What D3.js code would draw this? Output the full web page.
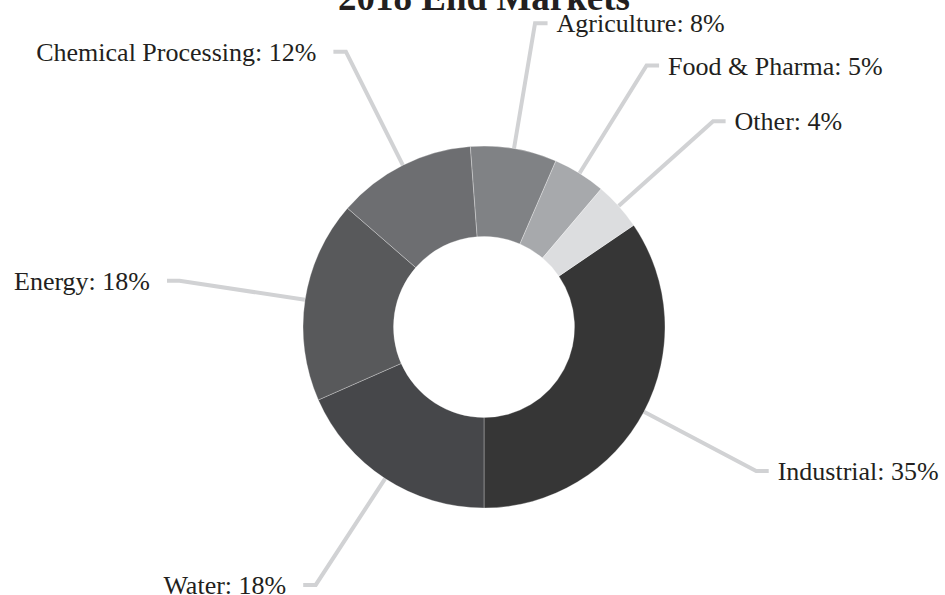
<!DOCTYPE html>
<html>
<head>
<meta charset="utf-8">
<script src="https://cdn.jsdelivr.net/npm/d3@7"></script>
<style>
  html, body { margin: 0; padding: 0; background: #ffffff; }
  svg { display: block; }
  text { font-family: "Liberation Serif", "Times New Roman", Times, serif; fill: #231f20; }
</style>
</head>
<body>
<svg id="chart" width="945" height="595"></svg>
<script>
const title = "2018 End Markets";
const categories = ["Industrial", "Water", "Energy", "Chemical Processing", "Agriculture", "Food & Pharma", "Other"];
const shares = [34.5, 18.4, 18.0, 12.4, 7.7, 4.7, 4.3];
const palette = ["#363636", "#46474a", "#58595b", "#6d6e71", "#808285", "#a7a9ac", "#dcdddf"];

const W = 945, H = 595;
const cx = 484, cy = 327;
const outerR = 181, innerR = 90.5;
const elbowR = 308;
const stub = 12.5;
const startDeg = 55.8;

const svg = d3.select("#chart");

const data = categories.map((c, i) => ({ name: c, value: shares[i] }));
const color = d3.scaleOrdinal().domain(categories).range(palette);

const startA = startDeg * Math.PI / 180;
const pie = d3.pie().sort(null).value(d => d.value)
  .startAngle(startA).endAngle(startA + 2 * Math.PI);
const arcs = pie(data);

const arc = d3.arc().innerRadius(innerR).outerRadius(outerR);
const edgeArc = d3.arc().innerRadius(outerR).outerRadius(outerR);
const elbowArc = d3.arc().innerRadius(elbowR).outerRadius(elbowR);

const g = svg.append("g").attr("transform", `translate(${cx},${cy})`);

// leader lines (under the donut)
const leaders = g.append("g").attr("class", "leaders");
arcs.forEach(a => {
  const mid = (a.startAngle + a.endAngle) / 2;
  const p0 = edgeArc.centroid(a);
  const p1 = elbowArc.centroid(a);
  const right = Math.sin(mid) >= 0;
  const p2 = [p1[0] + (right ? stub : -stub), p1[1]];
  leaders.append("path")
    .attr("d", d3.line()([p0, p1, p2]))
    .attr("fill", "none")
    .attr("stroke", "#d1d2d4")
    .attr("stroke-width", 4)
    .attr("stroke-linejoin", "miter");
  g.append("text")
    .attr("x", p2[0] + (right ? 9 : -17))
    .attr("y", p1[1])
    .attr("dy", "0.35em")
    .attr("text-anchor", right ? "start" : "end")
    .attr("font-size", 26)
    .text(`${a.data.name}: ${Math.round(a.data.value)}%`);
});

// donut
g.append("g").selectAll("path")
  .data(arcs)
  .join("path")
  .attr("d", arc)
  .attr("fill", d => color(d.data.name))
  .attr("stroke", "#ffffff")
  .attr("stroke-opacity", 0.5)
  .attr("stroke-width", 0.6);

// title (partly clipped at top)
svg.append("text")
  .attr("x", cx)
  .attr("y", 10)
  .attr("text-anchor", "middle")
  .attr("font-size", 37)
  .attr("font-weight", "bold")
  .text(title);
</script>
</body>
</html>
